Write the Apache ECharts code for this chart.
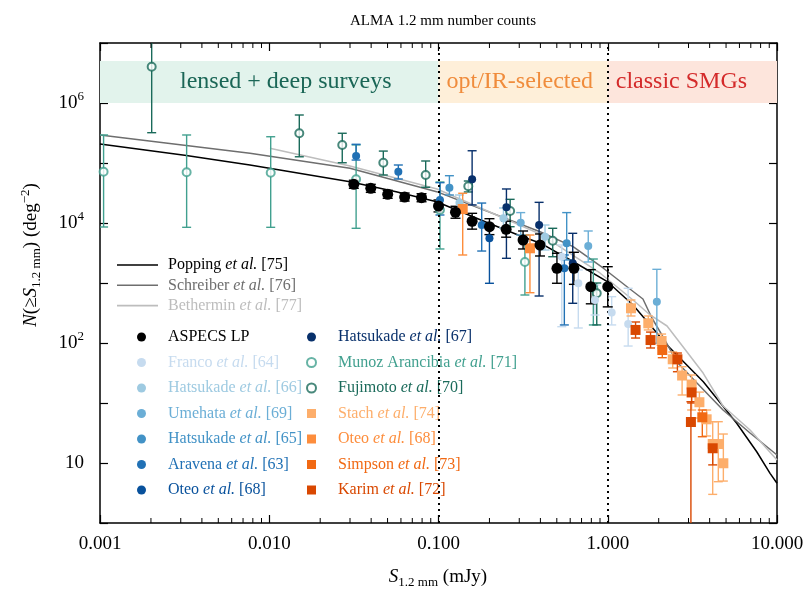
<!DOCTYPE html>
<html><head><meta charset="utf-8">
<script src="https://cdn.jsdelivr.net/npm/echarts@6/dist/echarts.min.js"></script>
<style>html,body{margin:0;padding:0;background:#fff}#c{width:810px;height:595px}</style>
</head><body><div id="c"></div>
<script>
// ---------- tick labels ----------
const xTickLabels = ['0.001', '0.010', '0.100', '1.000', '10.000'];
const yTickExp = [0, 2, 4, 6];
const yTickBase = ['10', '10', '10', '10'];
const yTickSup = ['', '2', '4', '6'];
const xMinorTicks = [0.002,0.003,0.004,0.005,0.006,0.007,0.008,0.009,
  0.02,0.03,0.04,0.05,0.06,0.07,0.08,0.09,
  0.2,0.3,0.4,0.5,0.6,0.7,0.8,0.9,
  2,3,4,5,6,7,8,9];

// ---------- model curves [S (mJy), N(>S) (deg^-2)] ----------
const popping = [[0.001,207000],[0.00316,135000],[0.00769,92700],[0.030,48800],[0.0562,33100],[0.0975,22600],
  [0.178,11200],[0.316,5850],[0.398,4650],[0.631,2240],[1.0,1040],[1.41,430],[1.78,200],[2.24,92.7],
  [3.67,22.6],[5.78,4.59],[7.59,1.54],[9.1,0.673],[10,0.459]];
const schreiber = [[0.001,293000],[0.00769,145000],[0.030,81700],[0.0975,33300],[0.398,7160],[0.624,4030],
  [0.938,1780],[1.352,794],[1.614,541],[1.824,261],[2.178,112],[2.564,48.2],[3.365,21.5],[4.80,7.64],
  [6.93,3.16],[10,1.36]];
const bethermin = [[0.0101,176000],[0.030,89100],[0.098,36900],[0.398,6560],[0.899,1470],[1.41,521],
  [1.78,293],[2.24,192],[2.82,82.6],[3.66,31.6],[4.80,8.91],[6.93,3.55],[10,1.12]];

// ---------- ASPECS LP ----------
const aspecsS  = [0.0316,0.0398,0.0501,0.0631,0.0794,0.1,0.126,0.158,0.2,0.251,0.316,0.398,0.501,0.631,0.794,1.0];
const aspecsN  = [44200,37800,30100,27100,26400,19200,15100,10700,8670,7850,5210,4300,1760,1760,870,870];
const aspecsLo = [37900,32400,25800,23200,22600,15300,12000,7900,6400,5800,3690,2820,990,950,450,400];
const aspecsHi = [51600,44100,35100,31600,30800,24200,19000,14500,11800,10700,7360,6560,3130,3250,1670,1870];

// ---------- literature points [S, N, lower, upper] ----------
const franco = [[0.535,2740,187,4300],[0.67,989,178,1650],[0.841,521,293,926],[1.055,322,200,592],[1.32,207,89,816]];
const hatsukade66 = [[0.133,21800,16500,29300],[0.242,12000,8260,17800],[0.426,5910,3550,9260]];
const umehata = [[0.306,10100,6310,14900],[0.767,4140,2240,7360],[1.95,488,99,1690]];
const hatsukade65 = [[0.116,38700,29300,61400],[0.572,4590,2420,14900]];
const aravena = [[0.0326,131000,112000,205000],[0.0579,71600,54100,92600],[0.102,24200,13600,47000],[0.18,9260,3410,21500],[0.554,1760,200,2930]];
const oteoBlue = [[0.2,5560,989,9260]];
const hatsukade67 = [[0.158,53500,20000,160000],[0.252,18300,2580,36900],[0.393,9260,607,22100],[0.621,2130,459,6730]];
const munoz = [[0.00105,71600,8580,293000],[0.00325,70000,8470,293000],[0.0102,68900,8470,274000],[0.0326,53500,8160,200000],[0.102,16500,3690,48200],[0.324,2240,631,6310],[0.822,826,200,2510]];
const fujimoto = [[0.00202,4030000,320000,3e7],[0.01505,313000,127000,631000],[0.027,200000,101000,313000],[0.0472,101000,63100,158000],[0.084,63100,39400,108000],[0.15,40900,32900,50100],[0.265,15800,8670,24800],[0.473,5070,2740,8160],[0.861,673,200,1000]];
const stach = [[1.372,379,282,521],[1.736,213,165,282],[2.08,108,82.6,141],[2.42,53.5,38.3,70.8],[2.75,28.7,13.6,40.3],[3.13,20.3,7.64,29.3],[3.48,10.3,5.62,15.2],[3.84,5.35,2.82,7.64],[4.17,2.07,0.30,4.88],[4.5,2.07,0.488,4.88],[4.82,0.99,0.5,3.04]];
const oteoOrange = [[0.139,17100,2930,31300],[0.347,3790,689,6310]];
const simpson = [[2.10,76.4,56.9,96.2],[3.62,5.78,2.74,7.64]];
const karim = [[1.46,165,121,224],[1.79,112,82.6,152],[2.58,53.5,33.2,68.1],[3.13,15,10,20],[3.1,4.82,0.001,10.5],[4.17,1.76,0.93,2.42]];

// ---------- styling ----------
const FONT = '"Liberation Serif","Times New Roman",serif';
const X_MIN = 0.001, X_MAX = 10, Y_MIN = 0.1, Y_MAX = 1e7;
const SQUARE = 'path://M0,0L10,0L10,10L0,10Z';

const aspecs = aspecsS.map((s, i) => [s, aspecsN[i], aspecsLo[i], aspecsHi[i]]);

const pointSets = [
  {key:'munoz', author:'Munoz Arancibia', ref:'[71]', color:'#41a08f', sym:'emptyCircle', size:8, data:munoz},
  {key:'fujimoto', author:'Fujimoto', ref:'[70]', color:'#1a6a5a', sym:'emptyCircle', size:8, data:fujimoto},
  {key:'franco', author:'Franco', ref:'[64]', color:'#c6dbef', sym:'circle', size:8, data:franco},
  {key:'hatsukade66', author:'Hatsukade', ref:'[66]', color:'#9ecae1', sym:'circle', size:8, data:hatsukade66},
  {key:'umehata', author:'Umehata', ref:'[69]', color:'#6baed6', sym:'circle', size:8, data:umehata},
  {key:'hatsukade65', author:'Hatsukade', ref:'[65]', color:'#4292c6', sym:'circle', size:8, data:hatsukade65},
  {key:'aravena', author:'Aravena', ref:'[63]', color:'#2171b5', sym:'circle', size:8, data:aravena},
  {key:'oteoBlue', author:'Oteo', ref:'[68]', color:'#08519c', sym:'circle', size:8, data:oteoBlue},
  {key:'hatsukade67', author:'Hatsukade', ref:'[67]', color:'#08306b', sym:'circle', size:8, data:hatsukade67},
  {key:'stach', author:'Stach', ref:'[74]', color:'#fdae6b', sym:'rect', size:10, data:stach},
  {key:'oteoOrange', author:'Oteo', ref:'[68]', color:'#fd8d3c', sym:'rect', size:10, data:oteoOrange},
  {key:'simpson', author:'Simpson', ref:'[73]', color:'#f16913', sym:'rect', size:10, data:simpson},
  {key:'karim', author:'Karim', ref:'[72]', color:'#d94801', sym:'rect', size:10, data:karim},
  {key:'aspecs', author:'ASPECS LP', ref:'', color:'#000000', sym:'circle', size:11, data:aspecs, plain:true}
];
const lineSets = [
  {key:'popping', author:'Popping', ref:'[75]', color:'#000000', data:popping},
  {key:'schreiber', author:'Schreiber', ref:'[76]', color:'#6e6e6e', data:schreiber},
  {key:'bethermin', author:'Bethermin', ref:'[77]', color:'#bdbdbd', data:bethermin}
];

const legendRich = {};
const legendText = {};
pointSets.concat(lineSets).forEach(s => {
  legendRich['n_' + s.key] = {fontFamily: FONT, fontSize: 16, color: s.color, lineHeight: 16};
  legendRich['i_' + s.key] = {fontFamily: FONT, fontSize: 16, fontStyle: 'italic', color: s.color, lineHeight: 16};
  legendText[s.key] = s.plain ? '{n_' + s.key + '|' + s.author + '}'
    : '{n_' + s.key + '|' + s.author + ' }{i_' + s.key + '|et al.}{n_' + s.key + '| ' + s.ref + '}';
});
const legendFmt = name => legendText[name];
const legendIcon = k => {
  const s = pointSets.find(p => p.key === k);
  return s.sym === 'rect' ? SQUARE : s.sym;
};

function errRender(color, cap) {
  return function (params, api) {
    const x = api.value(0), lo = api.value(1), hi = api.value(2);
    const p1 = api.coord([x, hi]), p2 = api.coord([x, lo]);
    const st = {stroke: color, lineWidth: 1.4};
    return {type: 'group', children: [
      {type: 'line', shape: {x1: p1[0], y1: p1[1], x2: p2[0], y2: p2[1]}, style: st},
      {type: 'line', shape: {x1: p1[0] - cap, y1: p1[1], x2: p1[0] + cap, y2: p1[1]}, style: st},
      {type: 'line', shape: {x1: p2[0] - cap, y1: p2[1], x2: p2[0] + cap, y2: p2[1]}, style: st}
    ]};
  };
}

const series = [];
// bands + dotted separators
const bandLabel = (color, extra) => Object.assign({show: true, position: 'insideLeft', distance: 8, color: color, fontSize: 24, fontFamily: FONT}, extra || {});
series.push({
  type: 'line', name: 'bands', data: [], silent: true, z: 1,
  markArea: {
    silent: true,
    data: [
      [{xAxis: 0.001, yAxis: 1e6, itemStyle: {color: '#e2f3ec'}, label: bandLabel('#1a6656', {offset: [72, 0]}), name: 'lensed + deep surveys'},
       {xAxis: 0.1, yAxis: 5e6}],
      [{xAxis: 0.1, yAxis: 1e6, itemStyle: {color: '#feefd9'}, label: bandLabel('#f08c3c'), name: 'opt/IR-selected'},
       {xAxis: 1, yAxis: 5e6}],
      [{xAxis: 1, yAxis: 1e6, itemStyle: {color: '#fde5dc'}, label: bandLabel('#d42a2a'), name: 'classic SMGs'},
       {xAxis: 10, yAxis: 5e6}]
    ]
  },
  markLine: {
    silent: true, symbol: ['none', 'none'], label: {show: false},
    lineStyle: {color: '#000', type: [2, 4], width: 2},
    data: [{xAxis: 0.1}, {xAxis: 1}]
  }
});
// minor ticks
series.push({
  type: 'custom', name: 'minorTicks', silent: true, z: 10,
  data: xMinorTicks.map(v => [v, 1]),
  encode: {x: 0, y: 1},
  renderItem: function (params, api) {
    const v = api.value(0);
    const b = api.coord([v, Y_MIN]), t = api.coord([v, Y_MAX]);
    const st = {stroke: '#000', lineWidth: 1};
    return {type: 'group', children: [
      {type: 'line', shape: {x1: b[0], y1: b[1], x2: b[0], y2: b[1] - 5}, style: st},
      {type: 'line', shape: {x1: t[0], y1: t[1], x2: t[0], y2: t[1] + 5}, style: st}
    ]};
  }
});
// model curves
lineSets.forEach(s => {
  series.push({type: 'line', name: s.key, data: s.data, symbol: 'none', showSymbol: false, silent: true,
    lineStyle: {color: s.color, width: 1.5}, itemStyle: {color: s.color}, z: 3});
});
// points
pointSets.forEach(s => {
  series.push({type: 'custom', name: s.key + '_err', silent: true, clip: true, z: 4,
    data: s.data.map(d => [d[0], d[2], d[3]]), encode: {x: 0, y: [1, 2]},
    renderItem: errRender(s.color, s.key === 'aspecs' ? 5 : 4.5)});
  series.push({type: 'scatter', name: s.key, silent: true, z: 5,
    data: s.data.map(d => [d[0], d[1]]), symbol: s.sym, symbolSize: s.size,
    itemStyle: s.sym === 'emptyCircle' ? {color: s.color, borderColor: s.color, borderWidth: 1.4} : {color: s.color, opacity: 1}});
});

const axisLineStyle = {color: '#000', width: 1.5};
const option = {
  animation: false,
  backgroundColor: '#fff',
  title: {text: 'ALMA 1.2 mm number counts', left: 438, top: 9, textAlign: 'center',
    textStyle: {fontFamily: FONT, fontSize: 15, fontWeight: 'normal', color: '#000'}},
  grid: {left: 100, right: 33, top: 43, bottom: 72, containLabel: false, outerBoundsMode: 'none'},
  xAxis: [
    {type: 'log', logBase: 10, min: X_MIN, max: X_MAX, position: 'bottom',
      axisLine: {onZero: false, lineStyle: axisLineStyle},
      axisTick: {inside: true, length: 8, lineStyle: {color: '#000', width: 1.2}},
      axisLabel: {margin: 12, color: '#000', fontFamily: FONT, fontSize: 19,
        formatter: v => xTickLabels[Math.round(Math.log10(v)) + 3]},
      splitLine: {show: false}, minorTick: {show: false}},
    {type: 'log', logBase: 10, min: X_MIN, max: X_MAX, position: 'top',
      axisLine: {onZero: false, lineStyle: axisLineStyle},
      axisTick: {inside: true, length: 8, lineStyle: {color: '#000', width: 1.2}},
      axisLabel: {show: false}, splitLine: {show: false}}
  ],
  yAxis: [
    {type: 'log', logBase: 10, min: Y_MIN, max: Y_MAX, position: 'left',
      axisLine: {onZero: false, lineStyle: axisLineStyle},
      axisTick: {inside: true, length: 8, lineStyle: {color: '#000', width: 1.2}},
      axisLabel: {margin: 16, color: '#000',
        formatter: v => {
          const e = Math.round(Math.log10(v));
          const i = yTickExp.indexOf(e);
          if (i < 0) return '';
          return '{b|' + yTickBase[i] + '}' + (yTickSup[i] ? '{s|' + yTickSup[i] + '}' : '');
        },
        rich: {b: {fontFamily: FONT, fontSize: 19, color: '#000', lineHeight: 26},
               s: {fontFamily: FONT, fontSize: 13, color: '#000', lineHeight: 13, verticalAlign: 'top'}}},
      splitLine: {show: false}},
    {type: 'log', logBase: 10, min: Y_MIN, max: Y_MAX, position: 'right',
      axisLine: {onZero: false, lineStyle: axisLineStyle},
      axisTick: {inside: true, length: 8, lineStyle: {color: '#000', width: 1.2}},
      axisLabel: {show: false}, splitLine: {show: false}}
  ],
  legend: [
    {orient: 'vertical', left: 117, top: 257, padding: 0, itemWidth: 41, itemHeight: 1.6, itemGap: 4.3, selectedMode: false,
      data: ['popping', 'schreiber', 'bethermin'].map(k => ({name: k, icon: 'rect'})), formatter: legendFmt,
      textStyle: {rich: legendRich, padding: [0, 0, 0, 5]}},
    {orient: 'vertical', left: 137, top: 329, padding: 0, itemWidth: 43, itemHeight: 9, itemGap: 9.5, selectedMode: false,
      data: ['aspecs', 'franco', 'hatsukade66', 'umehata', 'hatsukade65', 'aravena', 'oteoBlue'].map(k => ({name: k, icon: legendIcon(k)})),
      formatter: legendFmt, textStyle: {rich: legendRich}},
    {orient: 'vertical', left: 306, top: 329, padding: 0, itemWidth: 43, itemHeight: 9, itemGap: 9.5, selectedMode: false,
      data: ['hatsukade67', 'munoz', 'fujimoto', 'stach', 'oteoOrange', 'simpson', 'karim'].map(k => ({name: k, icon: legendIcon(k)})),
      formatter: legendFmt, textStyle: {rich: legendRich}}
  ],
  graphic: [
    {type: 'text', x: 438, y: 577, z: 100,
      style: {text: '{i|S}{sub|1.2 mm}{n| (mJy)}', align: 'center', verticalAlign: 'middle', fill: '#000',
        rich: {i: {fontFamily: FONT, fontSize: 19, fontStyle: 'italic', lineHeight: 24, fill: '#000'},
               n: {fontFamily: FONT, fontSize: 19, lineHeight: 24, fill: '#000'},
               sub: {fontFamily: FONT, fontSize: 13, lineHeight: 13, verticalAlign: 'bottom', fill: '#000'}}}},
    {type: 'text', x: 31, y: 255, rotation: Math.PI / 2, z: 100,
      style: {text: '{i|N}{n|(≥}{i|S}{sub|1.2 mm}{n|) (deg}{sup|−2}{n|)}', align: 'center', verticalAlign: 'middle', fill: '#000',
        rich: {i: {fontFamily: FONT, fontSize: 19, fontStyle: 'italic', lineHeight: 24, fill: '#000'},
               n: {fontFamily: FONT, fontSize: 19, lineHeight: 24, fill: '#000'},
               sub: {fontFamily: FONT, fontSize: 13, lineHeight: 13, verticalAlign: 'bottom', fill: '#000'},
               sup: {fontFamily: FONT, fontSize: 13, lineHeight: 13, verticalAlign: 'top', fill: '#000'}}}}
  ],
  series: series
};

const chart = echarts.init(document.getElementById('c'), null, {renderer: 'canvas'});
chart.setOption(option);
</script>
</body></html>
